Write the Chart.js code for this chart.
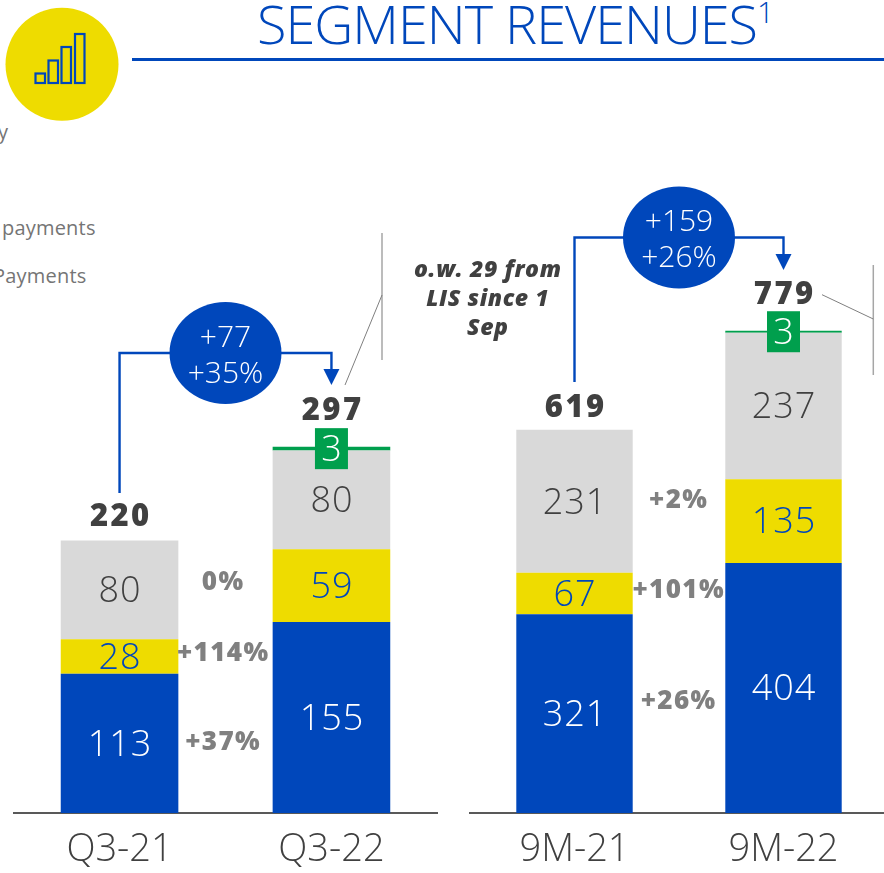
<!DOCTYPE html>
<html><head><meta charset="utf-8">
<script src="https://cdn.jsdelivr.net/npm/chart.js@4"></script>
<style>
html,body{margin:0;padding:0;background:#fff;width:884px;height:873px;overflow:hidden;position:relative;font-family:"Open Sans",sans-serif}
canvas{position:absolute;top:0}
#title{position:absolute;left:257px;top:-14px;font:300 54px "Open Sans";color:#0047BB;white-space:nowrap;letter-spacing:-1px}
#title sup{font-size:30px;vertical-align:baseline;position:relative;top:-21px;letter-spacing:0}
#rule{position:absolute;left:132px;top:58px;width:752px;height:2.5px;background:#0047BB}
#icon{position:absolute;left:0;top:0}
.side{position:absolute;color:#757575;font:400 20px "Open Sans";white-space:nowrap;letter-spacing:.2px}
</style></head><body>
<svg id="icon" width="130" height="130"><circle cx="62" cy="64.3" r="56.5" fill="#EEDC00"/>
<g fill="none" stroke="#0047BB" stroke-width="2.2"><rect x="35.5" y="73.5" width="9.5" height="9.5"/><rect x="48.5" y="60.5" width="9.5" height="22.5"/><rect x="61.5" y="47" width="9.5" height="36"/><rect x="75" y="34" width="9.5" height="49"/></g></svg>
<div id="title">SEGMENT REVENUES<sup>1</sup></div><div id="rule"></div>
<div class="side" style="left:-2px;top:118px">y</div>
<div class="side" style="left:2px;top:214px">payments</div>
<div class="side" style="left:-7px;top:262px">Payments</div>
<canvas id="c1" width="440" height="873" style="left:0"></canvas>
<canvas id="c2" width="488" height="873" style="left:400px"></canvas>
<script>
const quarterLabels=['Q3-21','Q3-22'];
const quarterOther=[113,155];
const quarterInstant=[28,59];
const quarterCore=[80,80];
const quarterLis=[null,3];
const quarterTotals=[220,297];
const quarterGrowth=['+37%','+114%','0%'];
const quarterDelta=['+77','+35%'];

const nineLabels=['9M-21','9M-22'];
const nineOther=[321,404];
const nineInstant=[67,135];
const nineCore=[231,237];
const nineLis=[null,3];
const nineTotals=[619,779];
const nineGrowth=['+26%','+101%','+2%'];
const nineDelta=['+159','+26%'];
const nineNote=['o.w. 29 from','LIS since 1','Sep'];

const BLUE='#0047BB',YEL='#EEDC00',GRY='#D9D9D9',GRN='#009F4D',INK='#404040',PCT='#808080';
const FONT='"Open Sans", sans-serif';

function text(ctx,s,x,y,font,color,sp){ctx.font=font;ctx.fillStyle=color;ctx.textAlign='center';ctx.textBaseline='middle';ctx.letterSpacing=(sp||0)+'px';ctx.fillText(s,x+(sp||0)/2,y+2);ctx.letterSpacing='0px';}

function overlay(cfg){return {id:'overlay',afterDatasetsDraw(chart){
  const ctx=chart.ctx;ctx.save();
  const labelColors=['#fff',BLUE,INK];
  const c0=chart.getDatasetMeta(0).data[0].x,c1=chart.getDatasetMeta(0).data[1].x;
  for(let d=0;d<3;d++){
    chart.getDatasetMeta(d).data.forEach((b,i)=>{
      const v=chart.data.datasets[d].data[i];
      text(ctx,String(v),b.x,(b.y+b.base)/2,'300 36px '+FONT,labelColors[d],1);
    });
  }
  const g=chart.getDatasetMeta(3).data[1];
  const gy=(g.y+g.base)/2;
  ctx.fillStyle=GRN;ctx.fillRect(g.x-16.5,gy-20.5,33,41);
  text(ctx,String(chart.data.datasets[3].data[1]),g.x,gy,'300 36px '+FONT,'#fff');
  cfg.totals.forEach((t,i)=>{
    const top=i===0?chart.getDatasetMeta(2).data[0].y:g.y;
    text(ctx,String(t),i===0?c0:c1,top-cfg.totalGap[i],'800 31px '+FONT,INK,2.4);
  });
  cfg.growth.forEach((s,d)=>{
    const b=chart.getDatasetMeta(d).data[0];
    text(ctx,s,cfg.growthX,(b.y+b.base)/2-cfg.growthDy[d],'800 26px '+FONT,PCT,1.4);
  });
  ctx.strokeStyle=BLUE;ctx.lineWidth=2.4;ctx.beginPath();
  ctx.moveTo(c0,cfg.connStart);ctx.lineTo(c0,cfg.connY);ctx.lineTo(c1,cfg.connY);ctx.lineTo(c1,cfg.arrowTop+2);ctx.stroke();
  ctx.fillStyle=BLUE;ctx.beginPath();ctx.moveTo(c1-8,cfg.arrowTop);ctx.lineTo(c1+8,cfg.arrowTop);ctx.lineTo(c1,cfg.arrowTop+16);ctx.closePath();ctx.fill();
  ctx.beginPath();ctx.ellipse(cfg.bubbleX,cfg.connY,56,51,0,0,Math.PI*2);ctx.fill();
  text(ctx,cfg.delta[0],cfg.bubbleX,cfg.connY-17,'300 30px '+FONT,'#fff');
  text(ctx,cfg.delta[1],cfg.bubbleX,cfg.connY+19,'300 30px '+FONT,'#fff');
  ctx.strokeStyle='#A6A6A6';ctx.lineWidth=1.5;ctx.beginPath();ctx.moveTo(cfg.call.vx,cfg.call.vt);ctx.lineTo(cfg.call.vx,cfg.call.vb);ctx.stroke();
  ctx.strokeStyle='#7F7F7F';ctx.lineWidth=1;ctx.beginPath();ctx.moveTo(cfg.call.dx,cfg.call.dy);ctx.lineTo(cfg.call.vx,cfg.call.ey);ctx.stroke();
  if(cfg.note){cfg.note.forEach((s,i)=>text(ctx,s,cfg.noteX,268+29*i,'italic 800 23px '+FONT,INK,0.6));}
  ctx.restore();
}};}

function build(id,labels,sets,yMax,padL,padR,pct,cfg){
  return new Chart(document.getElementById(id),{
    type:'bar',
    data:{labels,datasets:[
      {label:'Other',data:sets[0],backgroundColor:BLUE},
      {label:'Instant',data:sets[1],backgroundColor:YEL},
      {label:'Core',data:sets[2],backgroundColor:GRY},
      {label:'LIS',data:sets[3],backgroundColor:GRN}
    ]},
    options:{responsive:false,animation:false,
      layout:{padding:{left:padL,right:padR,top:0,bottom:0}},
      plugins:{legend:{display:false},tooltip:{enabled:false},title:{display:false}},
      datasets:{bar:{barPercentage:pct,categoryPercentage:1,borderWidth:0}},
      scales:{
        x:{stacked:true,afterFit(s){s.height=60;},
          grid:{display:false},border:{display:true,color:'#595959',width:2},
          ticks:{color:INK,font:{family:FONT,size:38,weight:'300'},padding:6,maxRotation:0,autoSkip:false}},
        y:{stacked:true,display:false,min:0,max:yMax}
      }},
    plugins:[overlay(cfg)]
  });
}
build('c1',quarterLabels,[quarterOther,quarterInstant,quarterCore,quarterLis],813/1.233,13.6,2.6,0.555,{
  totals:quarterTotals,totalGap:[25,37.5],growth:quarterGrowth,growthX:222.5,growthDy:[3,5,9],
  connStart:493,connY:353,arrowTop:369,bubbleX:225.5,delta:quarterDelta,
  call:{vx:382,vt:233,vb:360,dx:345,dy:385,ey:295}});
build('c2',nineLabels,[nineOther,nineInstant,nineCore,nineLis],813/0.619,70,-0.6,0.557,{
  totals:nineTotals,totalGap:[24,37.5],growth:nineGrowth,growthX:278,growthDy:[14,5,3],
  connStart:382,connY:237.5,arrowTop:254,bubbleX:279,delta:nineDelta,
  call:{vx:473.3,vt:265,vb:375,dx:422,dy:294.7,ey:319},note:nineNote,noteX:87.5});
</script></body></html>
